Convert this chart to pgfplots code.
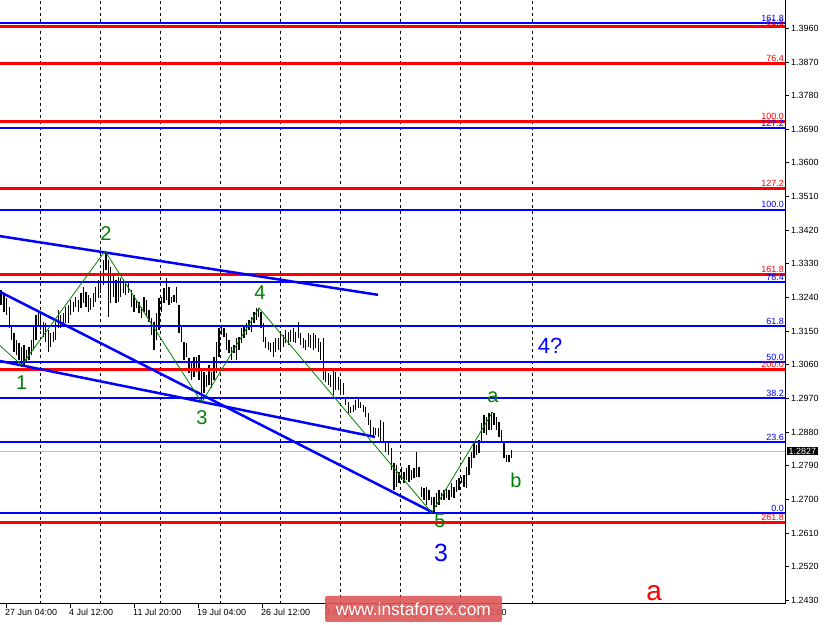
\documentclass[border=0pt]{standalone}
\usepackage{pgfplots}
\usepackage{pgfplotstable}
\pgfplotsset{compat=1.18}
\usepackage{fontspec}
\setmainfont{Liberation Sans}
\definecolor{fibblue}{RGB}{0,0,255}
\definecolor{fibred}{RGB}{255,0,0}
\definecolor{wavegreen}{RGB}{0,128,0}
\definecolor{wmred}{RGB}{222,88,88}
\definecolor{pricegray}{RGB}{192,192,192}

\pgfplotstableread{
x hi lo
1.0 1.3260 1.3220
4.0 1.3247 1.3201
6.7 1.3239 1.3193
9.3 1.3215 1.3158
11.7 1.3166 1.3126
14.0 1.3145 1.3094
16.7 1.3126 1.3086
19.0 1.3118 1.3073
21.7 1.3108 1.3054
24.0 1.3113 1.3054
26.7 1.3100 1.3065
29.0 1.3108 1.3073
31.7 1.3126 1.3086
33.3 1.3166 1.3100
36.0 1.3193 1.3126
38.3 1.3201 1.3161
40.7 1.3193 1.3153
43.3 1.3175 1.3134
45.7 1.3172 1.3121
48.3 1.3153 1.3094
50.7 1.3145 1.3108
53.3 1.3148 1.3121
55.7 1.3175 1.3126
58.3 1.3207 1.3158
60.7 1.3193 1.3158
63.3 1.3199 1.3172
65.7 1.3215 1.3172
68.3 1.3220 1.3172
70.7 1.3233 1.3193
73.3 1.3228 1.3201
75.7 1.3241 1.3215
78.3 1.3233 1.3201
81.0 1.3252 1.3212
83.3 1.3268 1.3225
86.0 1.3255 1.3215
88.3 1.3247 1.3201
90.7 1.3239 1.3207
93.3 1.3252 1.3215
95.7 1.3268 1.3228
98.3 1.3287 1.3239
100.7 1.3308 1.3252
103.3 1.3340 1.3273
106.0 1.3362 1.3314
108.3 1.3340 1.3188
110.7 1.3322 1.3225
113.3 1.3300 1.3241
116.0 1.3287 1.3225
118.3 1.3295 1.3228
120.7 1.3292 1.3241
123.3 1.3287 1.3252
125.7 1.3281 1.3247
128.3 1.3279 1.3252
131.7 1.3260 1.3215
134.0 1.3247 1.3201
136.7 1.3233 1.3212
139.0 1.3228 1.3199
141.7 1.3215 1.3185
144.0 1.3241 1.3201
146.7 1.3233 1.3188
149.0 1.3207 1.3175
151.7 1.3185 1.3140
154.0 1.3175 1.3100
156.7 1.3199 1.3126
159.0 1.3239 1.3153
161.7 1.3241 1.3201
164.0 1.3265 1.3225
166.7 1.3292 1.3233
169.0 1.3268 1.3220
171.7 1.3241 1.3225
174.0 1.3247 1.3228
176.7 1.3268 1.3225
179.0 1.3220 1.3145
181.7 1.3166 1.3121
184.0 1.3121 1.3073
186.7 1.3118 1.3081
189.0 1.3078 1.3038
191.7 1.3065 1.3019
194.0 1.3081 1.3028
196.7 1.3081 1.3041
199.0 1.3086 1.3019
201.7 1.3051 1.2958
204.0 1.3041 1.2985
206.7 1.3033 1.3001
209.0 1.3059 1.3006
211.7 1.3041 1.2998
214.0 1.3081 1.3019
216.7 1.3121 1.3038
219.0 1.3158 1.3081
221.7 1.3161 1.3140
224.0 1.3158 1.3134
226.7 1.3145 1.3100
229.0 1.3126 1.3092
231.7 1.3108 1.3073
234.0 1.3113 1.3092
236.7 1.3132 1.3073
239.0 1.3134 1.3100
241.7 1.3158 1.3118
244.0 1.3161 1.3132
246.7 1.3172 1.3140
249.0 1.3180 1.3153
251.7 1.3188 1.3148
254.0 1.3201 1.3172
256.3 1.3212 1.3180
258.6 1.3212 1.3188
261.0 1.3201 1.3158
263.3 1.3172 1.3121
265.7 1.3134 1.3105
268.3 1.3121 1.3100
270.7 1.3118 1.3094
273.3 1.3121 1.3081
275.7 1.3132 1.3094
278.3 1.3132 1.3100
280.7 1.3145 1.3100
283.3 1.3140 1.3108
285.7 1.3153 1.3118
288.3 1.3148 1.3113
290.7 1.3153 1.3121
293.3 1.3158 1.3121
295.7 1.3148 1.3118
298.3 1.3175 1.3132
300.7 1.3145 1.3113
303.3 1.3132 1.3105
305.7 1.3126 1.3100
308.3 1.3145 1.3108
310.7 1.3140 1.3105
313.3 1.3145 1.3100
315.7 1.3140 1.3105
318.3 1.3132 1.3094
320.7 1.3121 1.3073
323.3 1.3132 1.3019
325.7 1.3046 1.3014
328.3 1.3038 1.3006
330.7 1.3033 1.3001
333.3 1.3046 1.2979
335.7 1.3041 1.2993
338.3 1.3028 1.2993
340.7 1.3019 1.2979
343.3 1.3011 1.2979
345.7 1.2971 1.2953
348.3 1.2961 1.2931
350.7 1.2947 1.2931
353.3 1.2953 1.2934
355.7 1.2966 1.2939
358.3 1.2971 1.2945
360.7 1.2961 1.2945
363.3 1.2953 1.2934
365.7 1.2947 1.2920
368.3 1.2931 1.2899
370.7 1.2912 1.2872
373.3 1.2894 1.2864
375.7 1.2891 1.2872
378.3 1.2891 1.2867
380.7 1.2912 1.2854
383.3 1.2907 1.2854
385.7 1.2854 1.2827
388.3 1.2851 1.2819
391.7 1.2838 1.2779
394.0 1.2797 1.2725
396.7 1.2792 1.2733
399.0 1.2773 1.2744
401.7 1.2787 1.2752
404.0 1.2773 1.2744
406.7 1.2784 1.2752
409.0 1.2792 1.2746
411.7 1.2779 1.2752
414.0 1.2784 1.2757
416.7 1.2827 1.2760
419.0 1.2787 1.2760
421.7 1.2733 1.2706
424.0 1.2730 1.2698
426.7 1.2733 1.2685
429.0 1.2725 1.2698
431.7 1.2706 1.2685
434.0 1.2706 1.2666
436.7 1.2717 1.2680
439.0 1.2725 1.2685
441.7 1.2717 1.2698
444.0 1.2725 1.2698
446.7 1.2730 1.2704
449.0 1.2725 1.2698
451.7 1.2744 1.2706
454.0 1.2733 1.2704
456.7 1.2752 1.2720
459.0 1.2757 1.2725
461.7 1.2760 1.2744
464.0 1.2765 1.2733
466.7 1.2787 1.2730
469.0 1.2813 1.2765
471.7 1.2827 1.2784
474.0 1.2851 1.2811
476.7 1.2846 1.2819
479.0 1.2859 1.2824
481.7 1.2904 1.2851
484.0 1.2926 1.2878
486.7 1.2920 1.2872
489.0 1.2931 1.2886
491.7 1.2934 1.2886
494.0 1.2931 1.2899
496.7 1.2920 1.2886
499.0 1.2907 1.2867
501.7 1.2886 1.2854
504.0 1.2854 1.2811
506.7 1.2819 1.2800
509.0 1.2819 1.2800
511.7 1.2832 1.2811
}\bars

\begin{document}
\begin{tikzpicture}[x=1bp,y=1bp]
\begin{axis}[
  width=785bp, height=604bp, scale only axis,
  xmin=0, xmax=785, ymin=1.2420, ymax=1.40357,
  axis x line*=bottom, axis y line*=right,
  axis line style={black, line width=1bp},
  tick align=outside, major tick length=4bp,
  tick style={black, line width=0.8bp},
  xtick={6,70,134,198,262,326,390,454},
  xticklabels={27 Jun 04:00, 4 Jul 12:00, 11 Jul 20:00, 19 Jul 04:00, 26 Jul 12:00, 2 Aug 20:00, 10 Aug 04:00, 17 Aug 12:00},
  xticklabel style={anchor=north west, inner sep=0pt, font=\fontsize{9}{10}\selectfont, xshift=-1bp, yshift=-1bp},
  ytick={1.2430,1.2520,1.2610,1.2700,1.2790,1.2880,1.2970,1.3060,1.3150,1.3240,1.3330,1.3420,1.3510,1.3600,1.3690,1.3780,1.3870,1.3960},
  yticklabels={1.2430,1.2520,1.2610,1.2700,1.2790,1.2880,1.2970,1.3060,1.3150,1.3240,1.3330,1.3420,1.3510,1.3600,1.3690,1.3780,1.3870,1.3960},
  yticklabel style={anchor=west, inner sep=0pt, xshift=2bp, font=\fontsize{9}{10}\selectfont},
  /pgf/number format/assume math mode=true,
  clip=false,
]
\coordinate (O) at (axis cs:0,1.2420);
% vertical dashed grid
\pgfplotsinvokeforeach{40.7,100.3,160.3,220.3,280.3,340.3,400.3,460.3,532.3}{
  \addplot[black, line width=0.8bp, dash pattern=on 3bp off 3bp, forget plot] coordinates {(#1,1.2420) (#1,1.40357)};
}
% current price line
\addplot[pricegray, line width=1bp, forget plot] coordinates {(0,1.2827) (785,1.2827)};
% price bars (high-low)
\addplot[draw=none, mark=none, forget plot,
  error bars/.cd, y dir=plus, y explicit, error mark=none,
  error bar style={draw=black, line width=1.25bp, solid}]
  table[x=x, y=lo, y error plus expr=\thisrow{hi}-\thisrow{lo}] {\bars};
% blue fibonacci levels
\pgfplotsinvokeforeach{1.3973,1.3694,1.3475,1.3281,1.3164,1.3067,1.2971,1.2852,1.2663}{
  \addplot[fibblue, line width=2bp, forget plot] coordinates {(0,#1) (785,#1)};
}
% red fibonacci levels
\pgfplotsinvokeforeach{1.3964,1.3866,1.3711,1.3531,1.3302,1.3048,1.2638}{
  \addplot[fibred, line width=3bp, forget plot] coordinates {(0,#1) (785,#1)};
}
% trend lines
\addplot[fibblue, line width=2.5bp, forget plot] coordinates {(0,1.3404) (378,1.3247)};
\addplot[fibblue, line width=2.5bp, forget plot] coordinates {(0,1.3255) (432,1.2666)};
\addplot[fibblue, line width=2.5bp, forget plot] coordinates {(0,1.3070) (375,1.2867)};
% wave zigzag
\addplot[wavegreen, line width=0.8bp, forget plot] coordinates {(0,1.3111) (21.7,1.3059) (105,1.3364) (201.7,1.2959) (259,1.3212) (431.7,1.2664) (492.7,1.2934)};

% fib labels
\begin{scope}[every node/.style={anchor=south east, inner sep=0pt, font=\fontsize{9}{10}\selectfont, yshift=1.5bp}]
\node[text=fibred] at (axis cs:784,1.3964) {61.8};
\node[text=fibblue] at (axis cs:784,1.3973) {161.8};
\node[text=fibred] at (axis cs:784,1.3866) {76.4};
\node[text=fibred] at (axis cs:784,1.3711) {100.0};
\node[text=fibblue] at (axis cs:784,1.3694) {127.2};
\node[text=fibred] at (axis cs:784,1.3531) {127.2};
\node[text=fibblue] at (axis cs:784,1.3475) {100.0};
\node[text=fibred] at (axis cs:784,1.3302) {161.8};
\node[text=fibblue] at (axis cs:784,1.3281) {76.4};
\node[text=fibblue] at (axis cs:784,1.3164) {61.8};
\node[text=fibblue] at (axis cs:784,1.3067) {50.0};
\node[text=fibred] at (axis cs:784,1.3048) {200.0};
\node[text=fibblue] at (axis cs:784,1.2971) {38.2};
\node[text=fibblue] at (axis cs:784,1.2852) {23.6};
\node[text=fibblue] at (axis cs:784,1.2663) {0.0};
\node[text=fibred] at (axis cs:784,1.2638) {261.8};
\end{scope}

% wave labels
\begin{scope}[every node/.style={text=wavegreen, inner sep=0pt, font=\fontsize{20}{20}\selectfont}]
\node at (axis cs:21.7,1.3011) {1};
\node at (axis cs:106,1.3410) {2};
\node at (axis cs:202,1.2918) {3};
\node at (axis cs:260,1.3252) {4};
\node at (axis cs:440,1.2642) {5};
\node at (axis cs:493,1.2974) {a};
\node at (axis cs:516,1.2752) {b};
\end{scope}
\node[text=fibblue, inner sep=0pt, font=\fontsize{22}{22}\selectfont] at (axis cs:550,1.3110) {4?};
\node[text=fibblue, inner sep=0pt, font=\fontsize{25}{25}\selectfont] at (axis cs:441,1.2557) {3};
\node[text=fibred, inner sep=0pt, font=\fontsize{28}{28}\selectfont] at (axis cs:654,1.2450) {a};
\end{axis}
% current price box (image y 451.3 -> 152.7 above axis bottom)
\node[fill=black, text=white, inner xsep=1.5bp, inner ysep=1bp, anchor=west, font=\fontsize{9}{10}\selectfont] at ([shift={(787,152.7)}]O) {1.2827};
% watermark
\fill[wmred, opacity=0.9, rounded corners=2bp] ([shift={(325,8)}]O) rectangle ([shift={(502,-18)}]O);
\node[text=white, font=\fontsize{17.5}{18}\selectfont, inner sep=0pt] at ([shift={(413.5,-5)}]O) {www.instaforex.com};
\pgfresetboundingbox
\useasboundingbox ([shift={(0,604)}]O) rectangle ([shift={(825,-21)}]O);
\end{tikzpicture}
\end{document}
